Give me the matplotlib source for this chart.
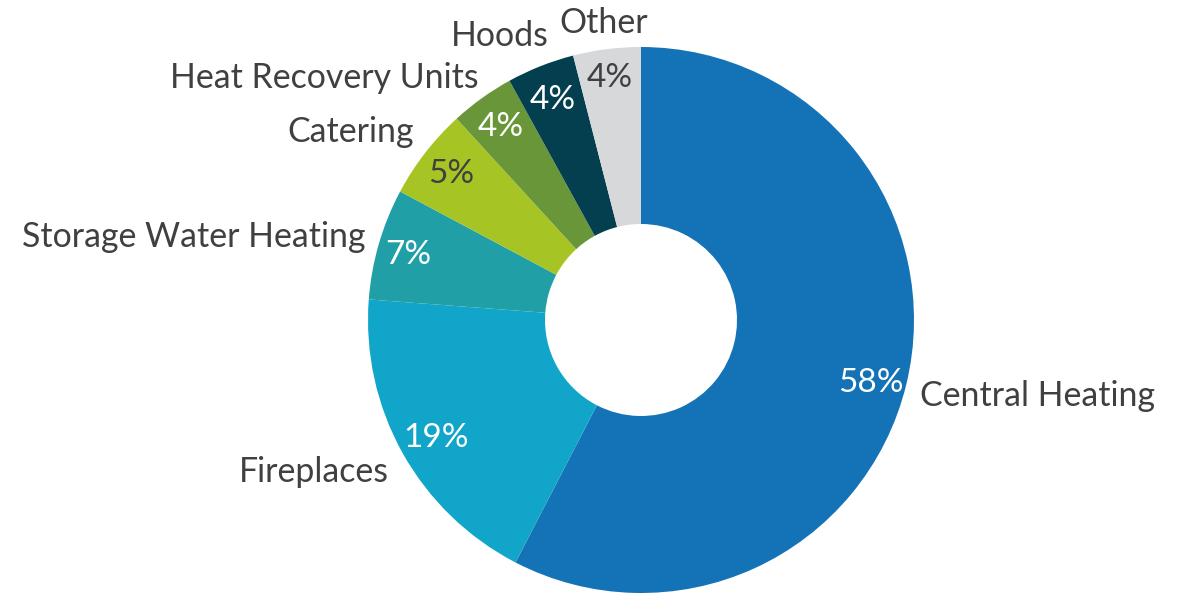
import numpy as np
import matplotlib
matplotlib.use("Agg")
import matplotlib.pyplot as plt

categories = ["Central Heating", "Fireplaces", "Storage Water Heating", "Catering",
              "Heat Recovery Units", "Hoods", "Other"]
values = [57.6, 18.6, 6.6, 5.4, 3.8, 4.0, 4.0]
pct_labels = ["58%", "19%", "7%", "5%", "4%", "4%", "4%"]
colors = ["#1473B7", "#11A5CA", "#20A0A6", "#A6C524", "#689638", "#033F4F", "#D7D8DA"]
pct_colors = ["white", "white", "white", "#404040", "white", "white", "#404040"]

plt.rcParams['font.family'] = ['Lato', 'DejaVu Sans']
TXT = "#404040"

W, H = 1183, 595
fig = plt.figure(figsize=(W / 100, H / 100), dpi=100)
cx, cy, R = 641, 320, 273
ax = fig.add_axes([(cx - R) / W, (H - cy - R) / H, 2 * R / W, 2 * R / H])
ax.axis("off")

wedges, _ = ax.pie(values, colors=colors, startangle=90, counterclock=False,
                   radius=1, wedgeprops=dict(width=1 - 96 / 273, linewidth=0))
ax.set_xlim(-1, 1)
ax.set_ylim(-1, 1)

fs = 24.4
pfs = 24
# label placement: (distance, ha, x offset px, y offset px)
label_style = {
    "Central Heating": (1.02, "left", 8, -10),
    "Fireplaces": (1.07, "right", 3, -10),
    "Storage Water Heating": (1.06, "right", 2, 2),
    "Catering": (1.08, "right", 6, 7),
    "Heat Recovery Units": (1.08, "right", 9, 2),
    "Hoods": (1.1, "right", 18, 5),
    "Other": (1.1, "center", 0, -1),
}
pct_style = [(0.85, 4, -8), (0.86, 0, -4), (0.88, -2, -2), (0.88, 0, -1),
             (0.88, 0, -2), (0.88, 0, -3), (0.9, 0, -2)]

for w, name, pl, pc, (pd, pdx, pdy) in zip(wedges, categories, pct_labels, pct_colors, pct_style):
    mid = np.deg2rad((w.theta1 + w.theta2) / 2)
    d, ha, ox, oy = label_style[name]
    ax.annotate(name, (d * np.cos(mid), d * np.sin(mid)), xytext=(ox, oy),
                textcoords="offset pixels", ha=ha, va="center",
                fontsize=fs, color=TXT, annotation_clip=False)
    ax.annotate(pl, (pd * np.cos(mid), pd * np.sin(mid)), xytext=(pdx, pdy),
                textcoords="offset pixels", ha="center", va="center",
                fontsize=pfs, color=pc, annotation_clip=False)

fig.savefig("out.png", dpi=100)
